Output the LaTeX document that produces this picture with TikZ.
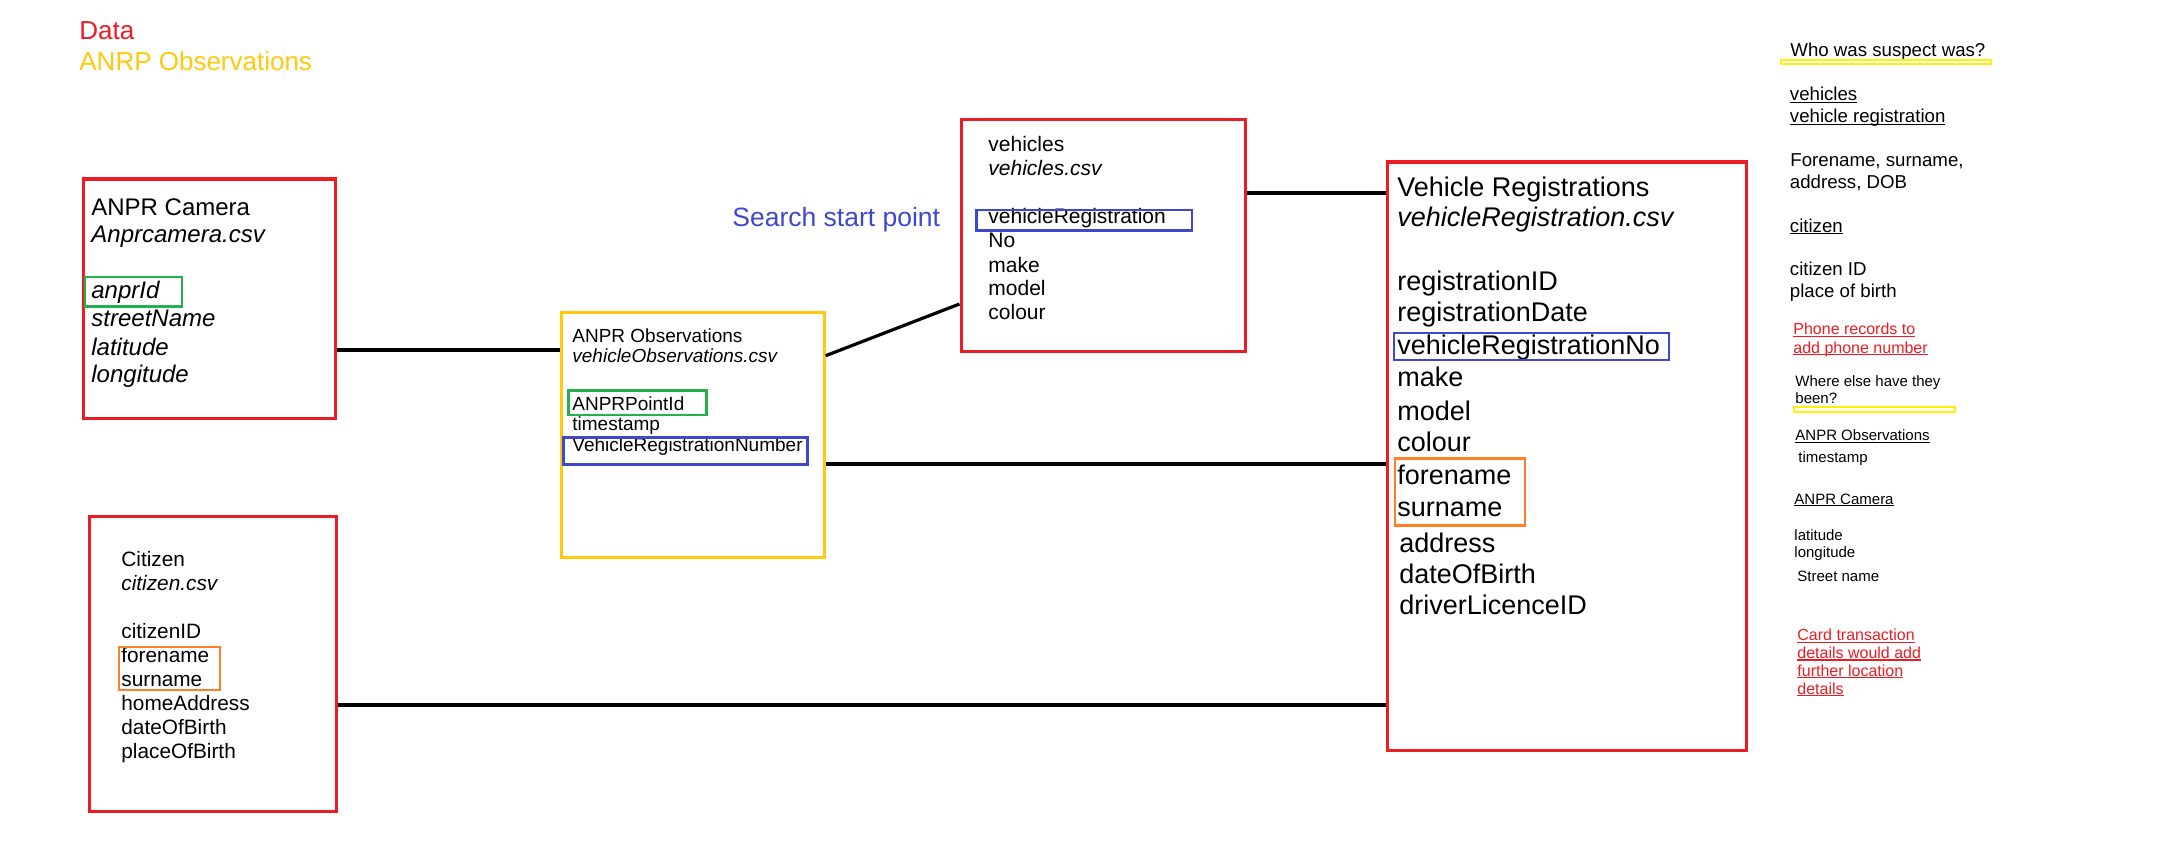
\documentclass[tikz,border=0pt]{standalone}
\usepackage{fontspec}
\setmainfont{Liberation Sans}
\definecolor{boxred}{RGB}{237,28,36}
\definecolor{obsyellow}{RGB}{255,201,14}
\definecolor{keygreen}{RGB}{34,177,76}
\definecolor{keyblue}{RGB}{63,72,204}
\definecolor{nameorange}{RGB}{255,127,39}
\definecolor{marker}{RGB}{255,242,0}
\newsavebox{\notebox}
\newcommand{\noteline}[1]{\sbox{\notebox}{#1}\rlap{\rule[-1.1pt]{\wd\notebox}{0.55pt}}\usebox{\notebox}}
\begin{document}
\begin{tikzpicture}[x=0.5pt,y=-0.5pt,
  row/.style={anchor=base west,inner sep=0pt},
  table/.style={draw=boxred,line width=1.6pt,inner sep=0pt,anchor=north west},
  keybox/.style={line width=1.3pt},
  link/.style={line width=1.6pt}]
\useasboundingbox (0,0) rectangle (2179,845);
\fill[white] (0,0) rectangle (2179,845);
% titles
\node[row,boxred,font=\fontsize{13}{15}\selectfont] (data) at (79,39.3) {Data};
\node[row,obsyellow,font=\fontsize{13}{15}\selectfont] (anrp) at (79,70.7) {ANRP Observations};
\node[row,keyblue,font=\fontsize{13.25}{15}\selectfont] (start) at (732,226.7) {Search start point};
% tables
\node[table,minimum width=126pt,minimum height=119.75pt] (cam) at (81.5,177.5) {};
\node[table,draw=obsyellow,minimum width=131.5pt,minimum height=122.5pt] (obs) at (559.5,310.8) {};
\node[table,minimum width=142pt,minimum height=115.75pt] (veh) at (959.5,118) {};
\node[table,minimum width=123.5pt,minimum height=147.7pt] (cit) at (88.2,514.8) {};
\node[table,minimum width=179.5pt,minimum height=294.25pt] (reg) at (1385.5,160.5) {};
% links
\draw[link] (cam.east |- 0,350) -- (obs.west |- 0,350);
\draw[link] (obs.east |- 0,355.7) -- (veh.west |- 0,304);
\draw[link] (veh.east |- 0,193) -- (reg.west |- 0,193);
\draw[link] (obs.east |- 0,464) -- (reg.west |- 0,464);
\draw[link] (cit.east |- 0,705) -- (reg.west |- 0,705);
% table rows
\foreach \y/\t [count=\i] in {
  216/ANPR Camera,
  242.7/\textit{Anprcamera.csv},
  298.3/\textit{anprId},
  326.7/\textit{streetName},
  355/\textit{latitude},
  382.7/\textit{longitude}
}{ \node[row,font=\fontsize{12}{14}\selectfont] (camrow\i) at (91,\y) {\t}; }
\foreach \y/\t [count=\i] in {
  342.7/ANPR Observations,
  362.7/\textit{vehicleObservations.csv},
  410/ANPRPointId,
  430.7/timestamp,
  451/VehicleRegistrationNumber
}{ \node[row,font=\fontsize{9.5}{11}\selectfont] (obsrow\i) at (572,\y) {\t}; }
\foreach \y/\t [count=\i] in {
  152/vehicles,
  176/\textit{vehicles.csv},
  224/vehicleRegistration,
  248/No,
  272/make,
  296/model,
  320/colour
}{ \node[row,font=\fontsize{10.5}{12}\selectfont] (vehrow\i) at (988,\y) {\t}; }
\foreach \y/\t [count=\i] in {
  566.7/Citizen,
  590/\textit{citizen.csv},
  638.3/citizenID,
  662.3/forename,
  686/surname,
  710/homeAddress,
  734.3/dateOfBirth,
  758.3/placeOfBirth
}{ \node[row,font=\fontsize{10.4}{12}\selectfont] (citrow\i) at (121,\y) {\t}; }
\foreach \x/\y/\t [count=\i] in {
  1397/196.7/Vehicle Registrations,
  1397/226.7/\textit{vehicleRegistration.csv},
  1397/290.7/registrationID,
  1397/321.7/registrationDate,
  1397/354/vehicleRegistrationNo,
  1397/386.5/make,
  1397/420/model,
  1397/451.4/colour,
  1397/484/forename,
  1397/516/surname,
  1399/552/address,
  1399/583/dateOfBirth,
  1399/614.4/driverLicenceID
}{ \node[row,font=\fontsize{13.5}{15}\selectfont] (regrow\i) at (\x,\y) {\t}; }
% keys
\draw[keybox,keygreen] (85,277) rectangle (182,306.3);
\draw[keybox,keygreen] (568.5,390.3) rectangle (706.3,415);
\draw[keybox,keyblue] (563.6,437.7) rectangle (807.3,464.5);
\draw[keybox,keyblue] (976.5,210) rectangle (1192,230.3);
\draw[keybox,keyblue] (1394,333) rectangle (1669,360);
\draw[keybox,nameorange] (119,647) rectangle (220,690);
\draw[keybox,nameorange] (1395,458.2) rectangle (1525,525.4);
% notes
\foreach \x/\y/\t [count=\i] in {
  1790/56.7/Who was suspect was?,
  1789.5/101/\noteline{vehicles},
  1789.5/122.7/\noteline{vehicle registration},
  {1790/166.7/Forename, surname,},
  {1789.5/188.3/address, DOB},
  1789.5/232.3/\noteline{citizen},
  1789.5/276/citizen ID,
  1789.5/297.7/place of birth
}{ \node[row,font=\fontsize{9.33}{11}\selectfont] (note\i) at (\x,\y) {\t}; }
\foreach \x/\y/\t [count=\i] in {
  1793/335/\noteline{Phone records to},
  1793/353.3/\noteline{add phone number},
  1797/640.7/\noteline{Card transaction},
  1797/658.3/\noteline{details would add},
  1797/676/\noteline{further location},
  1797/694/\noteline{details}
}{ \node[row,boxred,font=\fontsize{8}{9}\selectfont] (rednote\i) at (\x,\y) {\t}; }
\foreach \x/\y/\t [count=\i] in {
  1795/386.7/Where else have they,
  1795/403.3/been?,
  1795/440.7/\noteline{ANPR Observations},
  1798/462.7/timestamp,
  1794/504/\noteline{ANPR Camera},
  1794/540/latitude,
  1794/557.3/longitude,
  1797/581/Street name
}{ \node[row,font=\fontsize{7.5}{9}\selectfont] (smallnote\i) at (\x,\y) {\t}; }
\draw[marker,line width=1pt] (1781,59.8) rectangle (1991,63.8);
\draw[marker,line width=1pt] (1794,407.3) rectangle (1955,411.6);
\end{tikzpicture}
\end{document}
